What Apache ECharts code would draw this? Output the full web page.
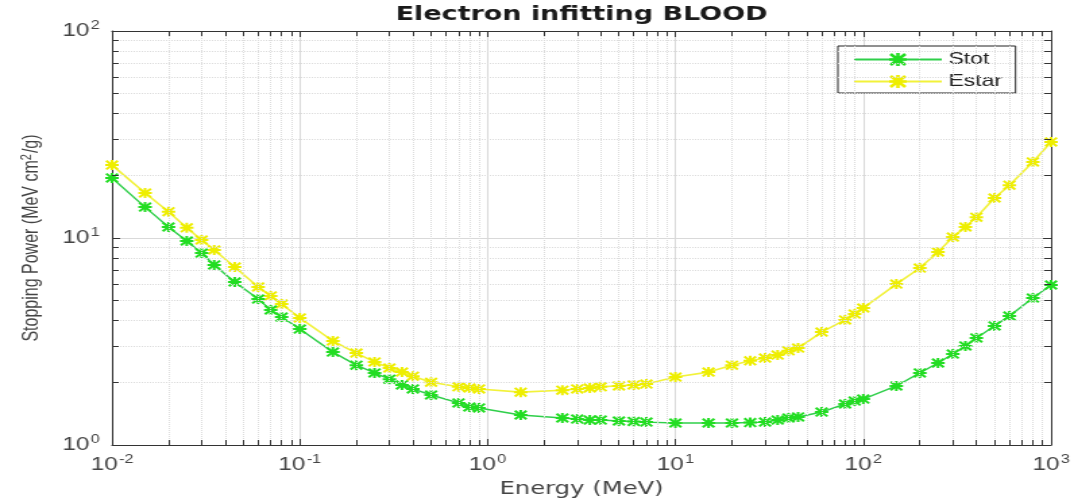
<!DOCTYPE html>
<html>
<head>
<meta charset="utf-8">
<script src="https://cdn.jsdelivr.net/npm/echarts@6/dist/echarts.min.js"></script>
<style>
  html, body { margin: 0; padding: 0; background: #fff; overflow: hidden; }
  /* the reference picture is stretched sideways, so draw narrow and stretch */
  #chart { width: 796px; height: 504px; transform: scaleX(1.34925); transform-origin: 0 0; }
</style>
</head>
<body>
<div id="chart"></div>
<script>
// energies (MeV)
var energy = [0.01, 0.015, 0.02, 0.025, 0.03, 0.035, 0.045, 0.06, 0.07, 0.08,
  0.1, 0.15, 0.2, 0.25, 0.3, 0.35, 0.4, 0.5, 0.7, 0.8, 0.9,
  1.5, 2.5, 3, 3.5, 4, 5, 6, 7,
  10, 15, 20, 25, 30, 35, 40, 45, 60, 80, 90,
  100, 150, 200, 250, 300, 350, 400, 500, 600, 800, 1000];

// stopping power, MeV cm2/g
var stot = [19.5, 14.1, 11.3, 9.67, 8.46, 7.41, 6.13, 5.07, 4.49, 4.15,
  3.63, 2.81, 2.43, 2.23, 2.08, 1.95, 1.865, 1.744, 1.596, 1.526, 1.51,
  1.396, 1.35, 1.335, 1.32, 1.32, 1.306, 1.30, 1.29,
  1.277, 1.277, 1.277, 1.284, 1.29, 1.32, 1.35, 1.366, 1.443, 1.578, 1.63,
  1.667, 1.928, 2.23, 2.49, 2.75, 3.01, 3.29, 3.76, 4.20, 5.13, 5.93];

var estar = [22.5, 16.5, 13.4, 11.2, 9.78, 8.75, 7.24, 5.80, 5.25, 4.80,
  4.11, 3.18, 2.78, 2.52, 2.355, 2.25, 2.15, 2.01, 1.91, 1.885, 1.865,
  1.80, 1.84, 1.865, 1.885, 1.91, 1.93, 1.95, 1.97,
  2.13, 2.25, 2.43, 2.55, 2.63, 2.72, 2.85, 2.94, 3.51, 4.02, 4.29,
  4.59, 5.99, 7.16, 8.56, 10.1, 11.3, 12.6, 15.6, 18.0, 23.3, 29.1];

var seriesNames = ['Stot', 'Estar'];

var xMin = 0.01, xMax = 1000, yMin = 1, yMax = 100;

// minor grid positions (2..9 of each decade)
var xMinor = [], yMinor = [];
for (var d = -2; d < 3; d++) {
  for (var m = 2; m <= 9; m++) xMinor.push(m * Math.pow(10, d));
}
for (var d = 0; d < 2; d++) {
  for (var m = 2; m <= 9; m++) yMinor.push(m * Math.pow(10, d));
}

var asterisk = 'path://M40,0H60V100H40Z M0,40H100V60H0Z M14,0L100,86L86,100L0,14Z M86,0L100,14L14,100L0,86Z';

var font = 'Liberation Sans, Arial, sans-serif';
var tickRich = {
  b: { fontSize: 18, color: '#444', fontFamily: font },
  s: { fontSize: 12, color: '#444', fontFamily: font, padding: [0, 0, 10, 1] }
};
function powLabel(v) {
  return '{b|10}{s|' + Math.round(Math.log10(v)) + '}';
}

var minorLines = [];
xMinor.forEach(function (v) { minorLines.push({ xAxis: v }); });
yMinor.forEach(function (v) { minorLines.push({ yAxis: v }); });

// short inner ticks for the minor positions on all four sides
var tx = Math.pow(10, 5 / 139), ty = Math.pow(10, 5 / 207);
var minorTicks = [];
xMinor.forEach(function (v) {
  minorTicks.push([{ coord: [v, yMin] }, { coord: [v, yMin * ty] }]);
  minorTicks.push([{ coord: [v, yMax / ty] }, { coord: [v, yMax] }]);
});
yMinor.forEach(function (v) {
  minorTicks.push([{ coord: [xMin, v] }, { coord: [xMin * tx, v] }]);
  minorTicks.push([{ coord: [xMax / tx, v] }, { coord: [xMax, v] }]);
});

var myChart = echarts.init(document.getElementById('chart'));

var option = {
  backgroundColor: '#fff',
  animation: false,
  title: {
    text: 'Electron infitting BLOOD',
    left: 431,
    textAlign: 'center',
    top: 5,
    padding: 0,
    textStyle: { fontFamily: 'DejaVu Sans', fontWeight: 'bold', fontSize: 20, color: '#1a1a1a' }
  },
  legend: {
    data: seriesNames,
    orient: 'vertical',
    left: 621,
    top: 46,
    padding: [5, 10, 3, 11],
    itemWidth: 65,
    itemHeight: 16,
    itemGap: 5,
    borderColor: '#222',
    borderWidth: 1,
    backgroundColor: '#fff',
    textStyle: { fontFamily: font, fontSize: 17, color: '#222' }
  },
  grid: { left: 83, right: 17, top: 31, bottom: 59 },
  xAxis: [{
    type: 'log', logBase: 10, min: xMin, max: xMax,
    name: 'Energy (MeV)', nameLocation: 'middle', nameGap: 35,
    nameTextStyle: { fontFamily: 'DejaVu Sans', fontSize: 18, color: '#444' },
    axisLine: { lineStyle: { color: '#333', width: 1 } },
    axisTick: { inside: true, length: 6, lineStyle: { color: '#333' } },
    axisLabel: { formatter: powLabel, rich: tickRich, margin: 9 },
    splitLine: { show: true, lineStyle: { color: '#d9d9d9', width: 1 } },
    minorTick: { show: false }
  }, {
    type: 'log', logBase: 10, min: xMin, max: xMax, position: 'top',
    axisLine: { lineStyle: { color: '#333', width: 1 } },
    axisTick: { inside: true, length: 6, lineStyle: { color: '#333' } },
    axisLabel: { show: false },
    splitLine: { show: false }
  }],
  yAxis: [{
    type: 'log', logBase: 10, min: yMin, max: yMax,
    name: 'Stopping Power (MeV cm{s|2}/g)', nameLocation: 'middle', nameGap: 50,
    nameTextStyle: {
      fontFamily: font, fontSize: 16, color: '#444',
      rich: { s: { fontFamily: font, fontSize: 11, color: '#444', padding: [0, 1, 8, 0] } }
    },
    axisLine: { show: true, lineStyle: { color: '#333', width: 1 } },
    axisTick: { show: true, inside: true, length: 6, lineStyle: { color: '#333' } },
    axisLabel: { formatter: powLabel, rich: tickRich, margin: 9 },
    splitLine: { show: true, lineStyle: { color: '#d9d9d9', width: 1 } }
  }, {
    type: 'log', logBase: 10, min: yMin, max: yMax, position: 'right',
    axisLine: { show: true, lineStyle: { color: '#333', width: 1 } },
    axisTick: { show: true, inside: true, length: 6, lineStyle: { color: '#333' } },
    axisLabel: { show: false },
    splitLine: { show: false }
  }],
  series: [{
    name: 'grid',
    type: 'line',
    data: [],
    silent: true,
    z: 1,
    markLine: {
      silent: true, symbol: ['none', 'none'], animation: false,
      label: { show: false },
      lineStyle: { color: '#dcdcdc', type: 'dotted', width: 1 },
      emphasis: { disabled: true },
      data: minorLines
    }
  }, {
    name: 'ticks',
    type: 'line',
    data: [],
    silent: true,
    z: 1,
    markLine: {
      silent: true, symbol: ['none', 'none'], animation: false,
      label: { show: false },
      lineStyle: { color: '#333', type: 'solid', width: 1 },
      emphasis: { disabled: true },
      data: minorTicks
    }
  }, {
    name: 'Stot',
    type: 'line',
    data: energy.map(function (e, i) { return [e, stot[i]]; }),
    symbol: asterisk,
    symbolSize: 10,
    clip: false,
    z: 4,
    lineStyle: { color: '#2fcf4a', width: 1.4 },
    itemStyle: { color: '#22dd22' }
  }, {
    name: 'Estar',
    type: 'line',
    data: energy.map(function (e, i) { return [e, estar[i]]; }),
    symbol: asterisk,
    symbolSize: 10,
    clip: false,
    z: 3,
    lineStyle: { color: '#f2f23a', width: 1.6 },
    itemStyle: { color: '#eeee00' }
  }]
};

myChart.setOption(option);
</script>
</body>
</html>
